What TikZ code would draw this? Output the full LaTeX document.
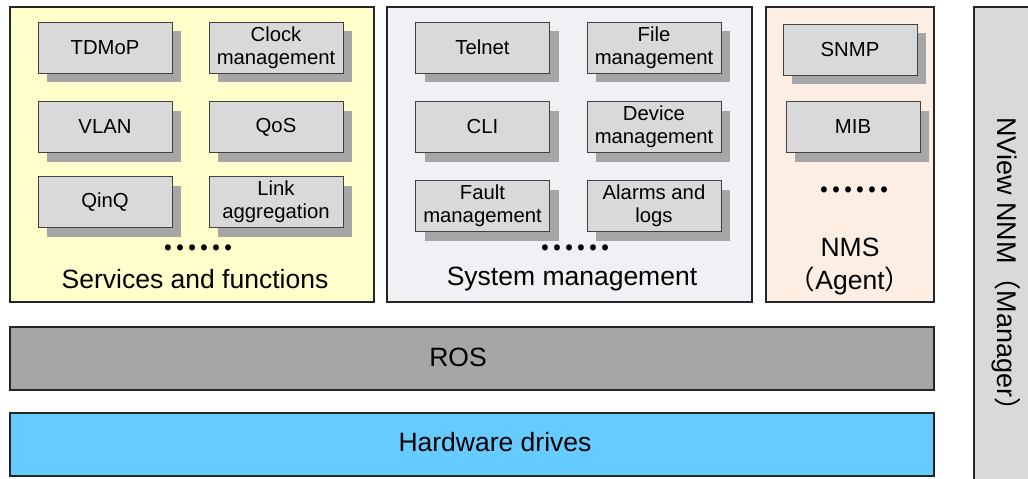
\documentclass[tikz,border=0pt]{standalone}
\usepackage{fontspec}
\setmainfont{Liberation Sans}
\newfontfamily\cjk{Noto Sans CJK SC}
\newfontfamily\cjkbold{Noto Sans CJK SC Bold}
\usetikzlibrary{shadows}
\definecolor{svcfill}{HTML}{FFFFCC}
\definecolor{sysfill}{HTML}{F0F0F5}
\definecolor{nmsfill}{HTML}{FDEEE4}
\definecolor{itemfill}{HTML}{D9D9D9}
\definecolor{shadowgray}{HTML}{A6A6A6}
\definecolor{rosfill}{HTML}{A6A6A6}
\definecolor{hwfill}{HTML}{66CCFF}
\definecolor{mgrfill}{HTML}{D9D9D9}
\begin{document}
\begin{tikzpicture}[x=1pt,y=-1pt,
  panel/.style={draw=black!85, line width=1.1pt, inner sep=0pt},
  item/.style={draw=black!75, fill=itemfill, line width=0.9pt, inner sep=0pt,
    minimum width=134pt, minimum height=51pt, align=center,
    font=\fontsize{20.3}{23}\selectfont,
    drop shadow={shadow xshift=9pt, shadow yshift=-9pt, fill=shadowgray, opacity=1}},
  biglabel/.style={font=\fontsize{26.5}{33}\selectfont, align=center, inner sep=0pt},
  dots/.style={font=\cjkbold\fontsize{32}{32}\selectfont, inner sep=0pt}]
\useasboundingbox (0,0) rectangle (1028,479);

% Outer panels
\node[panel, fill=svcfill, minimum width=364pt, minimum height=295pt] (svc) at (192,154.5) {};
\node[panel, fill=sysfill, minimum width=365pt, minimum height=295pt] (sys) at (569.5,154.5) {};
\node[panel, fill=nmsfill, minimum width=168pt, minimum height=295pt] (nms) at (850,154.5) {};
\node[panel, fill=rosfill, minimum width=924pt, minimum height=63pt] (ros) at (472,358.5) {};
\node[panel, fill=hwfill, minimum width=924pt, minimum height=63pt] (hw) at (472,444.5) {};
\node[panel, fill=mgrfill, minimum width=62pt, minimum height=480pt] (mgr) at (1005,247) {};

% Services and functions
\node[item] (tdmop) at (105,47.5) {TDMoP};
\node[item] (clock) at (276,47.5) {Clock\\management};
\node[item] (vlan)  at (105,127) {VLAN};
\node[item] (qos)   at (276,127) {QoS};
\node[item] (qinq)  at (105,202) {QinQ};
\node[item] (link)  at (276,202) {Link\\aggregation};
\node[dots] (svcdots) at (198,248) {……};
\node[biglabel] (svclabel) at (195,279) {Services and functions};

% System management
\node[item] (telnet) at (482.5,47.5) {Telnet};
\node[item] (file)   at (654,47.5) {File\\management};
\node[item] (cli)    at (482.5,127) {CLI};
\node[item] (device) at (654,127) {Device\\management};
\node[item] (fault)  at (482.5,206) {Fault\\management};
\node[item] (alarms) at (654,206) {Alarms and\\logs};
\node[dots] (sysdots) at (575,248) {……};
\node[biglabel] (syslabel) at (572,279) {System management};

% NMS agent
\node[item] (snmp) at (850,49.5) {SNMP};
\node[item] (mib)  at (853,127) {MIB};
\node[dots] (nmsdots) at (854,190) {……};
\node[biglabel] (nmslabel) at (850,266) {NMS\\{\cjk （}Agent{\cjk ）}};

% Base layers
\node[biglabel] (roslabel) at (458,357) {ROS};
\node[biglabel] (hwlabel) at (495,442) {Hardware drives};

% Manager
\node[biglabel, rotate=-90, font=\fontsize{27}{33}\selectfont] (mgrlabel) at (1006,271) {NView NNM{\cjk （}Manager{\cjk ）}};
\end{tikzpicture}
\end{document}
